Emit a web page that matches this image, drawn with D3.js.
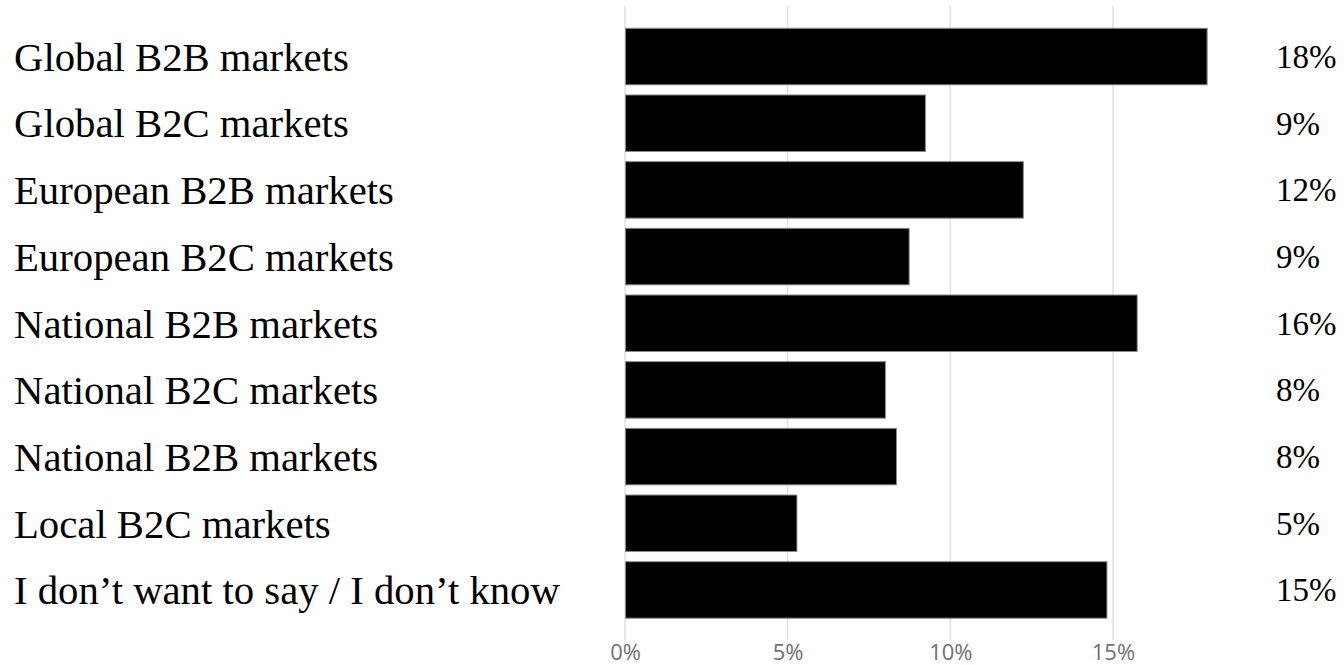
<!DOCTYPE html>
<html>
<head>
<meta charset="utf-8">
<script src="https://cdn.jsdelivr.net/npm/d3@7"></script>
<style>
  html, body { margin: 0; padding: 0; background: #fff; }
  svg { display: block; }
</style>
</head>
<body>
<svg id="chart" width="1344" height="665"></svg>
<script>
// Market segments, top to bottom
const categories = [
  "Global B2B markets",
  "Global B2C markets",
  "European B2B markets",
  "European B2C markets",
  "National B2B markets",
  "National B2C markets",
  "National B2B markets",
  "Local B2C markets",
  "I don\u2019t want to say / I don\u2019t know"
];
// Share of respondents per segment
const shares = [0.1788, 0.0922, 0.1223, 0.0872, 0.1573, 0.0799, 0.0833, 0.0527, 0.1480];
// Axis ticks
const tickValues = [0, 0.05, 0.10, 0.15];

const W = 1344, H = 665;
const svg = d3.select("#chart");
svg.append("rect").attr("width", W).attr("height", H).attr("fill", "#fff");

const rows = categories.map((c, i) => ({ i, label: c, value: shares[i] }));

const x = d3.scaleLinear().domain([0, 0.20]).range([625, 625 + 20 * 32.53]);
const y = d3.scaleBand()
  .domain(rows.map(d => d.i))
  .range([28.3, 618.2])
  .paddingInner(0.1525)
  .paddingOuter(0);

const pct = d3.format(".0%");
const serif = "'Liberation Serif', Georgia, serif";

// Vertical gridlines
svg.append("g")
  .selectAll("line")
  .data(tickValues)
  .join("line")
  .attr("x1", d => x(d)).attr("x2", d => x(d))
  .attr("y1", 6).attr("y2", 640)
  .attr("stroke", "#e1e1e1")
  .attr("stroke-width", 1.5);

// Bottom axis labels
const axis = d3.axisBottom(x)
  .tickValues(tickValues)
  .tickFormat(d3.format(".0%"))
  .tickSize(0)
  .tickPadding(0);
const gAxis = svg.append("g").attr("transform", "translate(0,643)").call(axis);
gAxis.select(".domain").remove();
gAxis.selectAll("text")
  .attr("dy", "0.75em")
  .attr("font-family", "'Open Sans', sans-serif")
  .attr("font-size", 22)
  .attr("fill", "#707070");

// Bars
svg.append("g")
  .selectAll("rect")
  .data(rows)
  .join("rect")
  .attr("x", x(0) + 0.5)
  .attr("y", d => y(d.i))
  .attr("width", d => x(d.value) - x(0))
  .attr("height", y.bandwidth())
  .attr("fill", "#000")
  .attr("stroke", "#8a8a8a")
  .attr("stroke-width", 1);

// Category labels on the left
const leftLabels = svg.append("g")
  .selectAll("text")
  .data(rows)
  .join("text")
  .attr("x", 14)
  .attr("y", d => y(d.i) + y.bandwidth() / 2)
  .attr("dy", "0.35em")
  .attr("font-family", serif)
  .attr("font-size", 30)
  .attr("fill", "#000")
  .text(d => d.label);

// Fit the label size so the longest one spans the left column
const longest = leftLabels.filter(d => d.i === 8).node().getComputedTextLength();
const fs = 30 * 546 / longest;
leftLabels.attr("font-size", fs);

// Value labels on the right
svg.append("g")
  .selectAll("text")
  .data(rows)
  .join("text")
  .attr("x", 1276)
  .attr("y", d => y(d.i) + y.bandwidth() / 2)
  .attr("dy", "0.35em")
  .attr("font-family", serif)
  .attr("font-size", Math.min(fs, 33))
  .attr("fill", "#000")
  .text(d => pct(d.value));
</script>
</body>
</html>
